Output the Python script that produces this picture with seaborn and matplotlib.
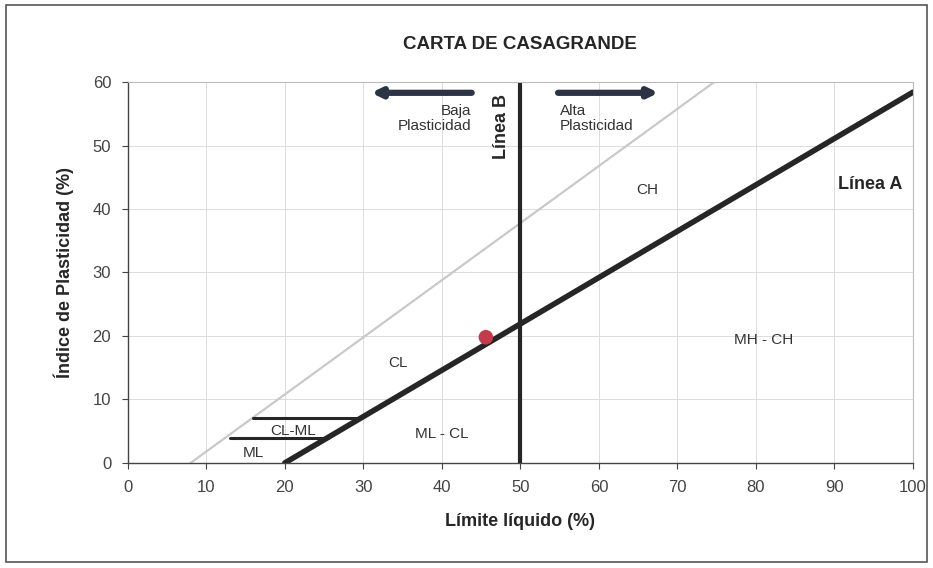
import matplotlib
matplotlib.use("Agg")
import matplotlib.pyplot as plt
import seaborn as sns
from matplotlib.patches import Rectangle

# Reference lines of the plasticity chart (liquid limit, plasticity index)
a_line_ll = [20, 100]
a_line_pi = [0, 58.4]
u_line_ll = [8, 74.7]
u_line_pi = [0, 60]
b_line_ll = [50, 50]
b_line_pi = [0, 60]
clml_top_ll = [16, 29.6]
clml_top_pi = [7, 7]
clml_bot_ll = [13, 25.5]
clml_bot_pi = [4, 4]

# Sample
sample_ll = [45.6]
sample_pi = [19.8]

x_ticks = [0, 10, 20, 30, 40, 50, 60, 70, 80, 90, 100]
y_ticks = [0, 10, 20, 30, 40, 50, 60]

sns.set_theme(style="white")
plt.rcParams["font.family"] = ["Liberation Sans", "DejaVu Sans"]

fig = plt.figure(figsize=(9.33, 5.68), dpi=100)
ax = fig.add_axes([0.137, 0.185, 0.8415, 0.6706])

# Outer chart border
fig.patches.append(Rectangle((0.006, 0.01), 0.988, 0.982, transform=fig.transFigure,
                             fill=False, edgecolor="#555555", linewidth=1.2))

ax.set_xlim(0, 100)
ax.set_ylim(0, 60)
ax.set_xticks(x_ticks)
ax.set_yticks(y_ticks)
ax.grid(True, color="#dcdcdc", linewidth=0.7)
ax.set_axisbelow(True)

def seg(xs, ys, color, lw):
    sns.lineplot(x=xs, y=ys, ax=ax, color=color, linewidth=lw, estimator=None,
                 sort=False, legend=False)

seg(u_line_ll, u_line_pi, "#c9c9c9", 1.6)
seg(a_line_ll, a_line_pi, "#262626", 4.0)
seg(b_line_ll, b_line_pi, "#262626", 3.0)
seg(clml_top_ll, clml_top_pi, "#262626", 2.2)
seg(clml_bot_ll, clml_bot_pi, "#262626", 2.2)

sns.scatterplot(x=sample_ll, y=sample_pi, ax=ax, color="#c73a4c", s=110,
                edgecolor="none", zorder=5, legend=False)

# Arrows for low / high plasticity
arrow_kw = dict(arrowstyle="-|>,head_length=0.45,head_width=0.22", color="#2b3444",
                linewidth=4.5, shrinkA=0, shrinkB=0)
ax.annotate("", xy=(31.0, 58.3), xytext=(43.8, 58.3), arrowprops=arrow_kw)
ax.annotate("", xy=(67.6, 58.3), xytext=(54.8, 58.3), arrowprops=arrow_kw)

txt = dict(color="#333333", fontsize=11)
ax.text(43.8, 54.2, "Baja\nPlasticidad", ha="right", va="center", linespacing=1.1, **txt)
ax.text(55.0, 54.2, "Alta\nPlasticidad", ha="left", va="center", linespacing=1.1, **txt)
ax.text(47.6, 53.0, "Línea B", rotation=90, ha="center", va="center",
        fontsize=13, fontweight="bold", color="#262626")
ax.text(94.5, 43.8, "Línea A", ha="center", va="center", fontsize=13,
        fontweight="bold", color="#262626")
ax.text(66.2, 43.0, "CH", ha="center", va="center", **txt)
ax.text(81.0, 19.4, "MH - CH", ha="center", va="center", **txt)
ax.text(34.4, 15.7, "CL", ha="center", va="center", **txt)
ax.text(40.0, 4.6, "ML - CL", ha="center", va="center", **txt)
ax.text(21.0, 5.0, "CL-ML", ha="center", va="center", **txt)
ax.text(16.0, 1.6, "ML", ha="center", va="center", **txt)

ax.set_title("CARTA DE CASAGRANDE", fontsize=13.5, fontweight="bold",
             color="#262626", pad=24)
ax.set_xlabel("Límite líquido (%)", fontsize=13, fontweight="bold",
              color="#262626", labelpad=13)
ax.set_ylabel("Índice de Plasticidad (%)", fontsize=13, fontweight="bold",
              color="#262626", labelpad=13)

ax.tick_params(axis="both", which="both", direction="out", length=4, width=0.8,
               color="#444444", labelcolor="#444444", labelsize=12, pad=8)
ax.tick_params(axis="x", bottom=True)
ax.tick_params(axis="y", left=True)
for side in ["left", "bottom"]:
    ax.spines[side].set_color("#444444")
    ax.spines[side].set_linewidth(1.0)
for side in ["top", "right"]:
    ax.spines[side].set_color("#bbbbbb")
    ax.spines[side].set_linewidth(0.8)

fig.savefig("out.png", dpi=100)
